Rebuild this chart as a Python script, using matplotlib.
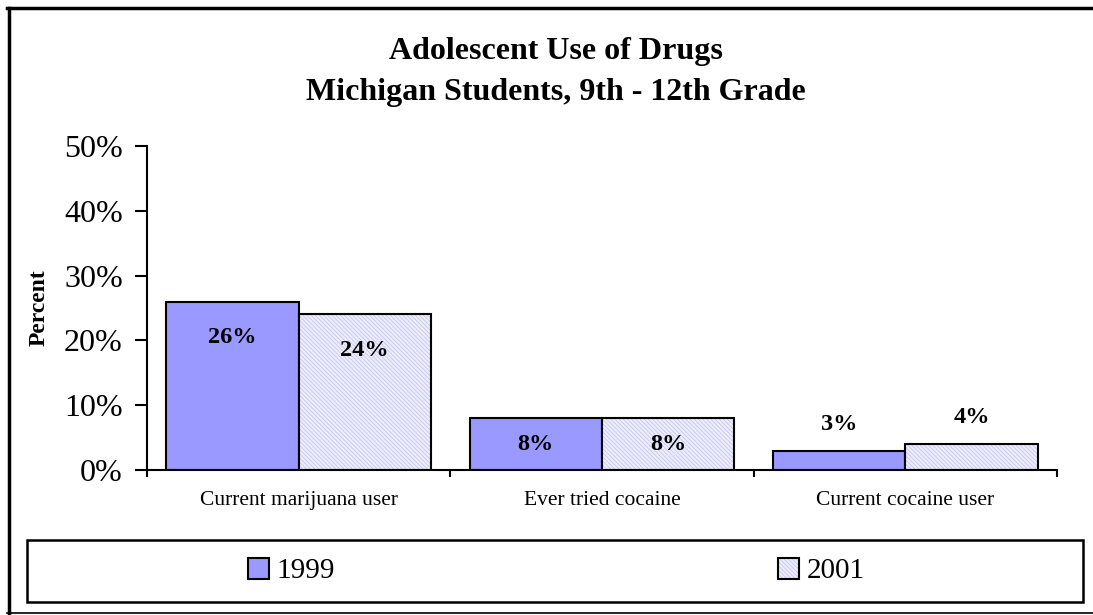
import matplotlib.pyplot as plt
import matplotlib.lines as mlines
import matplotlib.patches as mpatches
import numpy as np

categories = ["Current marijuana user", "Ever tried cocaine", "Current cocaine user"]
series_names = ["1999", "2001"]
values_1999 = [26, 8, 3]
values_2001 = [24, 8, 4]
y_ticks = [0, 10, 20, 30, 40, 50]
y_tick_labels = ["0%", "10%", "20%", "30%", "40%", "50%"]

plt.rcParams['font.family'] = ['Liberation Serif', 'DejaVu Serif']
plt.rcParams['hatch.linewidth'] = 0.5

color_1999 = "#9999ff"
color_2001 = "#ececfb"
hatch_2001 = "#c2c2ec"

fig = plt.figure(figsize=(10.93, 6.15), dpi=100)
ax = fig.add_axes([0.1345, 0.2358, 0.8325, 0.5268])

x = np.arange(len(categories))
w = 0.436
b1 = ax.bar(x - w / 2, values_1999, w, color=color_1999, edgecolor="black", linewidth=1.5, zorder=2)
b2f = ax.bar(x + w / 2, values_2001, w, color=color_2001, edgecolor=hatch_2001,
             hatch="\\\\\\\\\\\\\\\\", linewidth=0, zorder=2)
b2e = ax.bar(x + w / 2, values_2001, w, fill=False, edgecolor="black", linewidth=1.5, zorder=3)


def put_label(xpos, v):
    if v > 10:
        ax.annotate("%d%%" % v, (xpos, v), xytext=(0, -26), textcoords="offset points",
                    ha="center", va="center", fontsize=17.5, fontweight="bold", zorder=5)
    elif v > 5:
        ax.annotate("%d%%" % v, (xpos, v / 2.0), ha="center", va="center",
                    fontsize=17.5, fontweight="bold", zorder=5)
    else:
        ax.annotate("%d%%" % v, (xpos, v), xytext=(0, 19), textcoords="offset points",
                    ha="center", va="center", fontsize=17.5, fontweight="bold", zorder=5)


for i in range(len(categories)):
    put_label(x[i] - w / 2, values_1999[i])
    put_label(x[i] + w / 2, values_2001[i])

ax.set_xlim(-0.5, len(categories) - 0.5)
ax.set_ylim(0, 50)
ax.set_yticks(y_ticks)
ax.set_yticklabels(y_tick_labels, fontsize=23)
ax.tick_params(axis="y", direction="out", length=8.5, width=1.5, pad=9)

ax.set_xticks(np.arange(len(categories) + 1) - 0.5)
ax.set_xticklabels([])
ax.set_xticks(x, minor=True)
ax.set_xticklabels(categories, minor=True, fontsize=15.5)
ax.tick_params(axis="x", which="major", direction="out", length=5, width=1.5)
ax.tick_params(axis="x", which="minor", length=0, pad=15)

for s in ["top", "right"]:
    ax.spines[s].set_visible(False)
for s in ["left", "bottom"]:
    ax.spines[s].set_linewidth(1.5)

ax.set_ylabel("Percent", fontsize=17, fontweight="bold")
ax.yaxis.set_label_coords(-0.107, 0.5)

fig.text(0.509, 1 - 72 / 615, "Adolescent Use of Drugs\nMichigan Students, 9th - 12th Grade",
         ha="center", va="center", fontsize=23, fontweight="bold", linespacing=1.55)

# legend box
fig.patches.append(mpatches.Rectangle((27 / 1093, 1 - 602 / 615), (1083 - 27) / 1093, 62 / 615,
                                      transform=fig.transFigure, fill=False,
                                      edgecolor="black", linewidth=1.8))
leg = fig.legend([b1[0], (b2f[0], b2e[0])], series_names, ncol=2, loc="center",
                 bbox_to_anchor=(0.509, 1 - 571 / 615), frameon=False, fontsize=21,
                 handlelength=0.72, handleheight=0.72, handletextpad=0.25,
                 columnspacing=15.2)

# outer frame
fig.lines.append(mlines.Line2D([8.5 / 1093, 8.5 / 1093], [1 - 613 / 615, 1 - 8 / 615],
                               transform=fig.transFigure, color="black", linewidth=2.5))
fig.lines.append(mlines.Line2D([7 / 1093, 1], [1 - 8 / 615, 1 - 8 / 615],
                               transform=fig.transFigure, color="black", linewidth=2.5))
fig.lines.append(mlines.Line2D([7 / 1093, 1], [1 - 613 / 615, 1 - 613 / 615],
                               transform=fig.transFigure, color="black", linewidth=1.2))

fig.savefig("out.png", dpi=100)
